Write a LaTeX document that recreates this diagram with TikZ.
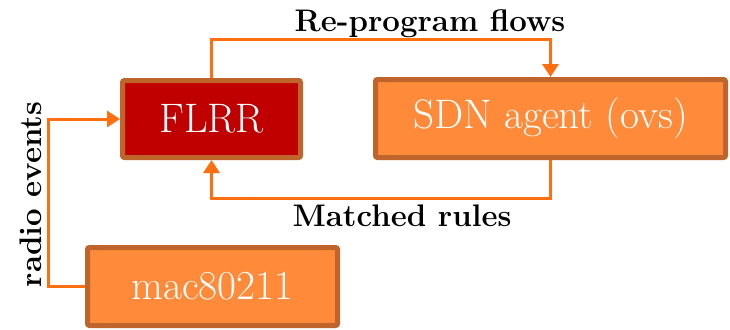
\documentclass[tikz,border=0pt]{standalone}
\usepackage{tikz}
\usetikzlibrary{arrows.meta}

\definecolor{boxline}{HTML}{BF642A}
\definecolor{flrrred}{HTML}{C00000}
\definecolor{agentorange}{HTML}{FF8A3A}
\definecolor{flowline}{HTML}{FF6F0F}

\tikzset{
  block/.style={draw=boxline, line width=2.5pt, rounded corners=1pt,
    text=white, font=\fontsize{20.6}{24}\selectfont, minimum height=39pt},
  flow/.style={draw=flowline, line width=1.5pt,
    -{Triangle[width=8pt,length=6.5pt]}},
  flowlabel/.style={font=\fontsize{15.6}{18}\selectfont\bfseries, inner sep=0pt}
}

\begin{document}
\begin{tikzpicture}[x=0.5pt,y=-0.5pt]
          \useasboundingbox (0,0) rectangle (730,329);
          % boxes
          \node[block, fill=flrrred, minimum width=89pt, minimum height=38.5pt] (flrr) at (211.5,119) {FLRR};
          \node[block, fill=agentorange, minimum width=175pt] (sdn) at (550.5,118.5) {SDN agent (ovs)};
          \node[block, fill=agentorange, minimum width=125pt] (mac) at (212.5,286.5) {mac80211};
          % connectors
          \draw[flow] (flrr.north) -- ++(0,-39) -| (sdn.north);
          \draw[flow] (sdn.south) -- ++(0,38) -| (flrr.south);
          \draw[flow] (mac.west) -- ++(-37,0) |- (flrr.west);
          % labels
          \node[flowlabel, anchor=base] (reprog) at (430,31.5) {Re-program flows};
          \node[flowlabel, anchor=base] (matched) at (402,226.5) {Matched rules};
          \node[flowlabel, anchor=base, rotate=90] (radio) at (41.5,194.5) {radio events};
        \end{tikzpicture}
\end{document}
